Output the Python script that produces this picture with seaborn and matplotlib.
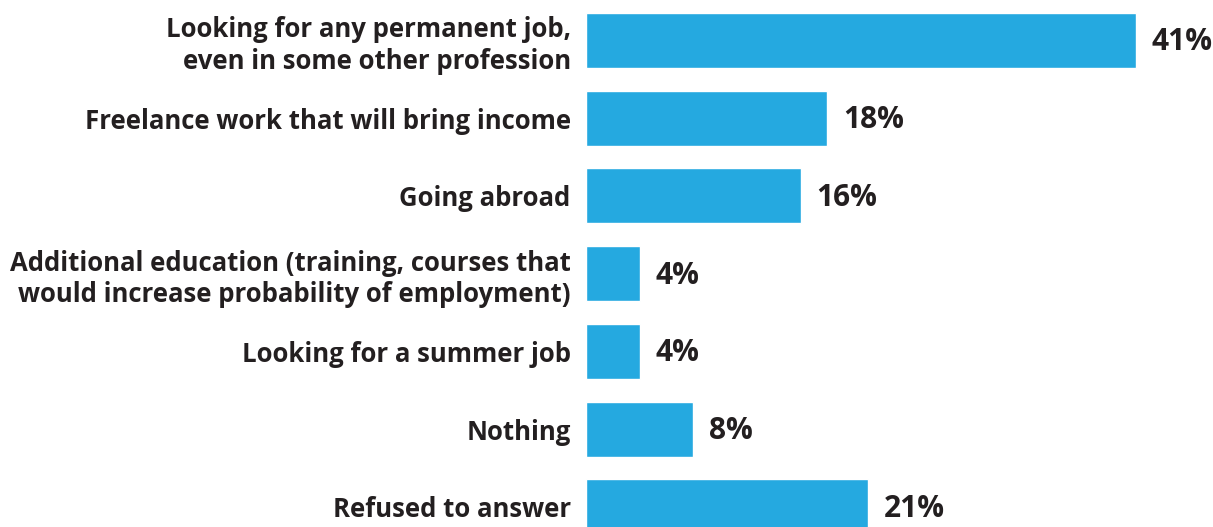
import matplotlib
matplotlib.use("Agg")
import matplotlib.pyplot as plt
import seaborn as sns
import pandas as pd

categories = [
    "Looking for any permanent job,\neven in some other profession",
    "Freelance work that will bring income",
    "Going abroad",
    "Additional education (training, courses that\nwould increase probability of employment)",
    "Looking for a summer job",
    "Nothing",
    "Refused to answer",
]
shares = [41, 18, 16, 4, 4, 8, 21]
value_labels = ["41%", "18%", "16%", "4%", "4%", "8%", "21%"]

BAR_COLOR = "#25A9E0"
TEXT_COLOR = "#231F20"

sns.set_theme(style="white")
plt.rcParams["font.family"] = ["Open Sans", "DejaVu Sans"]

df = pd.DataFrame({"answer": categories, "share": shares})

W, H = 1213, 527
fig = plt.figure(figsize=(W / 100, H / 100), dpi=100)
ax = fig.add_axes([586 / W, 0, 1 - 586 / W, 1])

sns.barplot(data=df, y="answer", x="share", orient="h", color=BAR_COLOR,
            saturation=1, width=0.708, ax=ax)

ax.set_xlim(0, 627 / 13.41)
ax.set_ylim(6.261, -0.521)
ax.set_xlabel("")
ax.set_ylabel("")
ax.set_xticks([])
ax.tick_params(axis="y", length=0, pad=11)
for lab in ax.get_yticklabels():
    lab.set_fontsize(18.5)
    lab.set_fontweight("bold")
    lab.set_color(TEXT_COLOR)
    lab.set_linespacing(1.22)
for s in ax.spines.values():
    s.set_visible(False)

for i, (v, t) in enumerate(zip(shares, value_labels)):
    ax.annotate(t, xy=(v, i), xytext=(16, -2), textcoords="offset pixels",
                ha="left", va="center", fontsize=21.5, fontweight="bold",
                color=TEXT_COLOR)

fig.savefig("out.png", dpi=100)
